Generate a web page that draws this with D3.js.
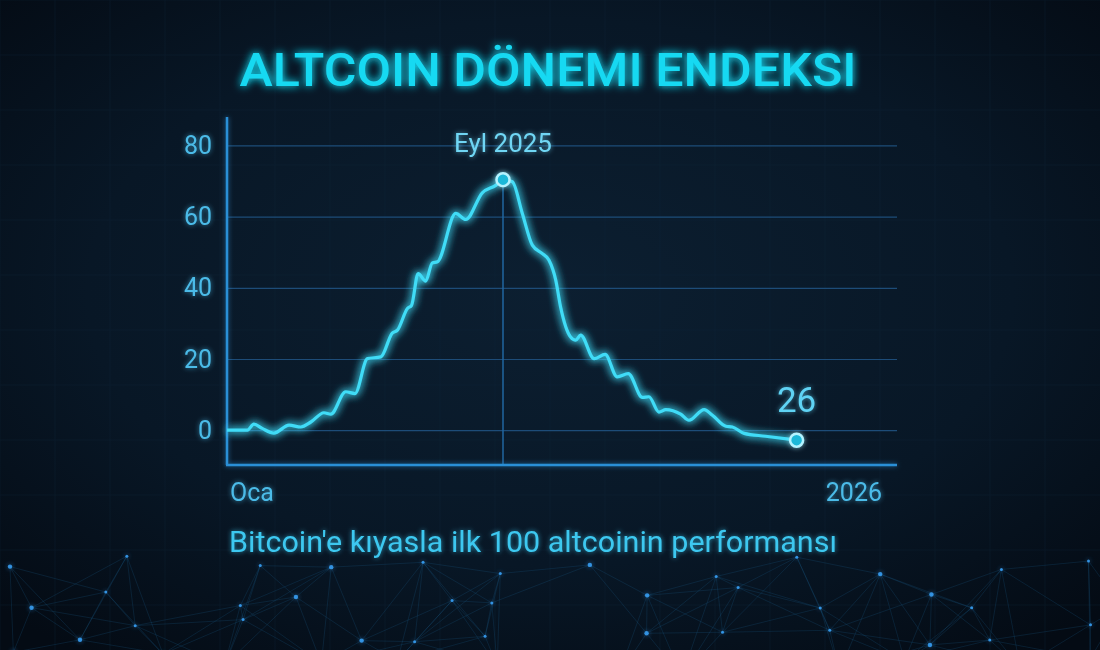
<!DOCTYPE html>
<html>
<head>
<meta charset="utf-8">
<script src="https://cdn.jsdelivr.net/npm/d3@7"></script>
<style>
  html, body { margin: 0; padding: 0; background: #07131f; }
  svg { display: block; font-family: Roboto, "Noto Sans", sans-serif; }
</style>
</head>
<body>
<svg id="chart"></svg>
<script>
// chart data (months since Jan 2025, index value)
var months = [0, 0.59, 0.78, 1.02, 1.36, 1.8, 2.14, 2.43, 2.81, 3.01, 3.44, 3.71, 4.07, 4.46, 4.79, 4.94,
  5.23, 5.35, 5.54, 5.76, 5.95, 6.1, 6.63, 6.92, 7.4, 7.79, 8, 8.27, 8.56, 8.85, 9.14, 9.33, 9.53,
  9.67, 9.96, 10.11, 10.25, 10.64, 10.96, 11.31, 11.63, 12.04, 12.23, 12.52, 12.72, 13.15, 13.39,
  13.83, 14.07, 14.46, 14.65, 14.99, 15.61, 16.51];
var values = [0, 0, 1.7, 0.5, -0.8, 1.4, 0.9, 2.3, 4.9, 4.5, 10.8, 10.3, 20.1, 20.6, 27.3, 28.1,
  34.2, 35.1, 44, 41.9, 47, 47.3, 60.9, 59.2, 66.7, 68.8, 70.4, 69.8, 60.9, 52, 49.6, 47.8, 42.1,
  34.6, 26.2, 25.3, 26.7, 20.1, 21.3, 15, 15.9, 9.2, 9.4, 5.1, 5.8, 4.5, 2.8,
  5.8, 4.2, 1.1, 0.9, -0.9, -1.7, -2.8];
var yTicks = [0, 20, 40, 60, 80];
var xTickLabels = ["Oca", "2026"];
var peakLabel = "Eyl 2025";
var peakMonth = 8;
var endLabel = "26";
var title = "ALTCOIN DÖNEMI ENDEKSI";
var subtitle = "Bitcoin'e kıyasla ilk 100 altcoinin performansı";

var width = 1100, height = 650;
var svg = d3.select("#chart").attr("width", width).attr("height", height);
var defs = svg.append("defs");

// background
var bg = defs.append("radialGradient").attr("id", "bg")
  .attr("cx", "50%").attr("cy", "45%").attr("r", "70%");
bg.append("stop").attr("offset", "0%").attr("stop-color", "#0c1f31");
bg.append("stop").attr("offset", "60%").attr("stop-color", "#081726");
bg.append("stop").attr("offset", "100%").attr("stop-color", "#040b14");
svg.append("rect").attr("width", width).attr("height", height).attr("fill", "url(#bg)");

// glow filters (user space so flat lines keep them; big region for translated groups)
function glow(id, sd, strength) {
  var f = defs.append("filter").attr("id", id).attr("filterUnits", "userSpaceOnUse")
    .attr("x", -1200).attr("y", -800).attr("width", 3400).attr("height", 2400);
  f.append("feGaussianBlur").attr("in", "SourceGraphic").attr("stdDeviation", sd).attr("result", "b");
  f.append("feComponentTransfer").attr("in", "b").attr("result", "b2")
    .append("feFuncA").attr("type", "linear").attr("slope", strength);
  var m = f.append("feMerge");
  m.append("feMergeNode").attr("in", "b2");
  m.append("feMergeNode").attr("in", "SourceGraphic");
}
glow("glow", 4, 1.8);
glow("glowText", 4, 1.2);
glow("glowSoft", 2.5, 0.7);

// faint background grid
var deco = svg.append("g").attr("opacity", 0.3);
d3.range(0, width, 55).forEach(function (gx) {
  deco.append("line").attr("x1", gx).attr("x2", gx).attr("y1", 0).attr("y2", height)
    .attr("stroke", "#10283d").attr("stroke-width", 1);
});
d3.range(0, height, 55).forEach(function (gy) {
  deco.append("line").attr("x1", 0).attr("x2", width).attr("y1", gy).attr("y2", gy)
    .attr("stroke", "#10283d").attr("stroke-width", 1);
});

// network decoration at the bottom (seeded jittered grid, decorative only)
var seed = 11;
function rnd() { seed = (seed * 16807) % 2147483647; return (seed - 1) / 2147483646; }
var nodes = [];
for (var r = 0; r < 4; r++) {
  for (var c = 0; c < 12; c++) {
    nodes.push([c * 95 + 10 + rnd() * 70, 555 + r * 32 + rnd() * 26]);
  }
}
var net = svg.append("g");
nodes.forEach(function (a, i) {
  nodes.forEach(function (b, j) {
    if (j <= i) return;
    var d = Math.hypot(a[0] - b[0], a[1] - b[1]);
    if (d < 110) {
      net.append("line").attr("x1", a[0]).attr("y1", a[1]).attr("x2", b[0]).attr("y2", b[1])
        .attr("stroke", "#1b5a8a").attr("stroke-opacity", 0.3).attr("stroke-width", 0.8);
    }
  });
});
net.selectAll("circle").data(nodes).enter().append("circle")
  .attr("cx", function (d) { return d[0]; }).attr("cy", function (d) { return d[1]; })
  .attr("r", function (d, i) { return i % 3 === 0 ? 2.2 : 1.5; })
  .attr("fill", "#3aa6ff").attr("opacity", 0.85).attr("filter", "url(#glowSoft)");

// scales
var x = d3.scaleLinear().domain([0, 19.42]).range([227, 897]);
var y = d3.scaleLinear().domain([-9.5, 88]).range([464, 117]);

// title
svg.append("text")
  .attr("x", 548).attr("y", 86)
  .attr("text-anchor", "middle")
  .attr("font-size", 47).attr("font-weight", 500)
  .attr("textLength", 617).attr("lengthAdjust", "spacingAndGlyphs")
  .attr("fill", "#19d9f2").attr("filter", "url(#glowText)")
  .text(title);

// y axis + grid
var yAxis = svg.append("g").attr("transform", "translate(227,0)")
  .call(d3.axisLeft(y).tickValues(yTicks).tickSize(-(897 - 227)).tickPadding(15));
yAxis.select(".domain").remove();
yAxis.selectAll(".tick line").attr("stroke", "#1d4c78").attr("stroke-width", 1.2);
yAxis.selectAll(".tick text").attr("fill", "#4bbbe8").attr("font-size", 25)
  .attr("font-family", "Roboto, sans-serif").attr("filter", "url(#glowSoft)");

// peak marker line
var peakIdx = months.indexOf(peakMonth);
svg.append("line")
  .attr("x1", x(peakMonth)).attr("x2", x(peakMonth))
  .attr("y1", y(values[peakIdx]) + 8).attr("y2", 464)
  .attr("stroke", "#2166a0").attr("stroke-width", 1.5);

// axes lines
svg.append("line").attr("x1", 227).attr("x2", 227).attr("y1", 117).attr("y2", 465)
  .attr("stroke", "#2a8fd6").attr("stroke-width", 2.5).attr("filter", "url(#glowSoft)");
svg.append("line").attr("x1", 226).attr("x2", 897).attr("y1", 465).attr("y2", 465)
  .attr("stroke", "#2a8fd6").attr("stroke-width", 2.5).attr("filter", "url(#glowSoft)");

// x labels
svg.append("text").attr("x", x(0) + 3).attr("y", 501)
  .attr("font-size", 25).attr("fill", "#4bbbe8").attr("filter", "url(#glowSoft)")
  .text(xTickLabels[0]);
svg.append("text").attr("x", 882).attr("y", 501).attr("text-anchor", "end")
  .attr("font-size", 25).attr("fill", "#4bbbe8").attr("filter", "url(#glowSoft)")
  .text(xTickLabels[1]);

// the line
var data = months.map(function (m, i) { return { m: m, v: values[i] }; });
var line = d3.line()
  .x(function (d) { return x(d.m); })
  .y(function (d) { return y(d.v); })
  .curve(d3.curveMonotoneX);
svg.append("path").datum(data)
  .attr("d", line)
  .attr("fill", "none")
  .attr("stroke", "#3fdcf7")
  .attr("stroke-width", 3.2)
  .attr("stroke-linejoin", "round")
  .attr("filter", "url(#glow)");

// peak dot + label
svg.append("circle").attr("cx", x(peakMonth)).attr("cy", y(values[peakIdx])).attr("r", 6.5)
  .attr("fill", "#1fb8d8").attr("stroke", "#b4f3ff").attr("stroke-width", 2.5)
  .attr("filter", "url(#glowSoft)");
svg.append("text").attr("x", x(peakMonth)).attr("y", 152).attr("text-anchor", "middle")
  .attr("font-size", 26).attr("fill", "#6fd6f4").attr("filter", "url(#glowSoft)")
  .text(peakLabel);

// end dot + label
var last = data[data.length - 1];
svg.append("circle").attr("cx", x(last.m)).attr("cy", y(last.v)).attr("r", 6.5)
  .attr("fill", "#1fb8d8").attr("stroke", "#b4f3ff").attr("stroke-width", 2.5)
  .attr("filter", "url(#glowSoft)");
svg.append("text").attr("x", x(last.m)).attr("y", 412).attr("text-anchor", "middle")
  .attr("font-size", 35).attr("fill", "#5fd3f4").attr("filter", "url(#glowSoft)")
  .text(endLabel);

// subtitle
svg.append("text").attr("x", 229).attr("y", 552)
  .attr("font-size", 29).attr("fill", "#3cc8f0").attr("filter", "url(#glowSoft)")
  .attr("textLength", 608).attr("lengthAdjust", "spacingAndGlyphs")
  .text(subtitle);
</script>
</body>
</html>
